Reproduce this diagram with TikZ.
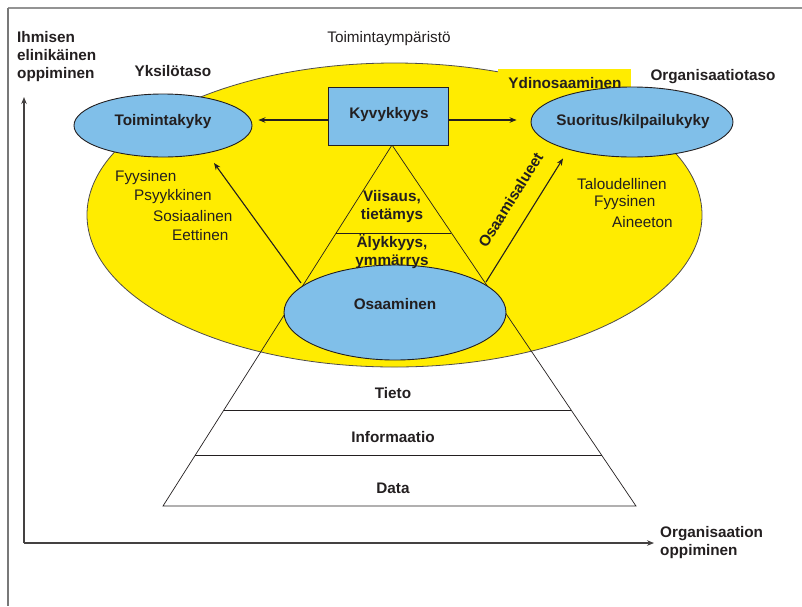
\documentclass[tikz,border=0pt]{standalone}
\usepackage{fontspec}
\setmainfont{Liberation Sans}
\usetikzlibrary{shapes.geometric,arrows.meta,calc}

\definecolor{ink}{RGB}{35,31,32}
\definecolor{sun}{RGB}{255,236,0}
\definecolor{sky}{RGB}{128,191,233}
\definecolor{framegray}{RGB}{120,120,120}

\tikzset{
  txt/.style={font=\fontsize{15.3}{18}\selectfont, text=ink, inner sep=0pt},
  bold/.style={txt, font=\fontsize{15.3}{18}\selectfont\bfseries},
  blob/.style={ellipse, draw=ink, line width=0.9pt, fill=sky, inner sep=0pt},
  arr/.style={draw=ink, line width=1.1pt, -{Stealth[length=7pt,width=5.5pt]}},
  pyr/.style={draw=ink, line width=0.7pt},
}

\begin{document}
\begin{tikzpicture}[x=1pt, y=-1pt]
\useasboundingbox (0,0) rectangle (802,606);

% page frame
\draw[framegray!80, line width=1.4pt] (8,8) -- (802,8);
\draw[framegray, line width=1.4pt] (8,8) -- (8,606);

% learning axes
\coordinate (origin) at (24,543);
\coordinate (ytip) at (24,97);
\coordinate (xtip) at (654,543);
\draw[arr, draw=ink!85] (origin) -- (ytip);
\draw[arr, draw=ink!85] (origin) -- (xtip);

% operating environment
\node[ellipse, draw=ink!80, line width=0.8pt, fill=sun, minimum width=615pt,
      minimum height=304pt, inner sep=0pt] (env) at (394.5,215) {};
\fill[sun] (498,69) rectangle (631,100);

% knowledge pyramid
\coordinate (apex) at (392,145);
\coordinate (bl) at (163,506);
\coordinate (br) at (636,506);
\draw[pyr] (bl) -- (apex) -- (br) -- cycle;
\foreach \t in {0.2438,0.734,0.8587}
  \draw[pyr] ($(apex)!\t!(bl)$) -- ($(apex)!\t!(br)$);

% capability nodes
\node[blob, minimum width=178pt, minimum height=63pt] (toim) at (163,125.5) {};
\node[blob, minimum width=202pt, minimum height=70pt] (suor) at (632,122) {};
\node[blob, minimum width=222pt, minimum height=95pt] (osa) at (395,312.5) {};
\node[draw=ink, line width=0.9pt, fill=sky, minimum width=120pt,
      minimum height=58pt, inner sep=0pt] (kyv) at (388,116) {};

% connectors
\draw[arr] ($(kyv.west)+(0,4)$) -- ($(toim.east)+(6,-5.5)$);
\draw[arr] ($(kyv.east)+(0,4)$) -- ($(suor.west)+(-14,-2)$);
\draw[arr] ($(osa.center)+(-94,-29.5)$) -- ($(toim.south)+(51,5.5)$);
\draw[arr] ($(osa.center)+(91,-30.5)$) -- ($(suor.south)+(-69,1)$);

% labels
\node[bold] (ltoim) at (163,122) {Toimintakyky};
\node[bold] (lsuor) at (633,122) {Suoritus/kilpailukyky};
\node[bold] (losa) at (395,304) {Osaaminen};
\node[bold] (lkyv) at (389,115) {Kyvykkyys};

\node[txt] (env-l) at (389,39) {Toimintaympäristö};
\node[bold] (yks) at (173,71) {Yksilötaso};
\node[bold] (ydin) at (565,83) {Ydinosaaminen};
\node[bold] (org) at (713,77) {Organisaatiotaso};

\node[bold, anchor=west, align=left] (ihm) at (17,57)
  {Ihmisen\\elinikäinen\\oppiminen};
\node[bold, anchor=west, align=left] (orgopp) at (660,542.5)
  {Organisaation\\oppiminen};

\node[txt, anchor=west] (f1) at (115,178) {Fyysinen};
\node[txt, anchor=west] (f2) at (134,197) {Psyykkinen};
\node[txt, anchor=west] (f3) at (153,216) {Sosiaalinen};
\node[txt, anchor=west] (f4) at (172,235) {Eettinen};

\node[txt, anchor=west] (o1) at (577,184) {Taloudellinen};
\node[txt, anchor=west] (o2) at (594,203) {Fyysinen};
\node[txt, anchor=west] (o3) at (612,222) {Aineeton};

\node[bold, rotate=58] (alue) at (510.5,200) {Osaamisalueet};

\node[bold, align=center] (viis) at (392,206.5) {Viisaus,\\tietämys};
\node[bold, align=center] (aly) at (392,251.5) {Älykkyys,\\ymmärrys};
\node[bold] (tieto) at (393,393) {Tieto};
\node[bold] (info) at (393,437) {Informaatio};
\node[bold] (data) at (393,488) {Data};

\end{tikzpicture}
\end{document}
